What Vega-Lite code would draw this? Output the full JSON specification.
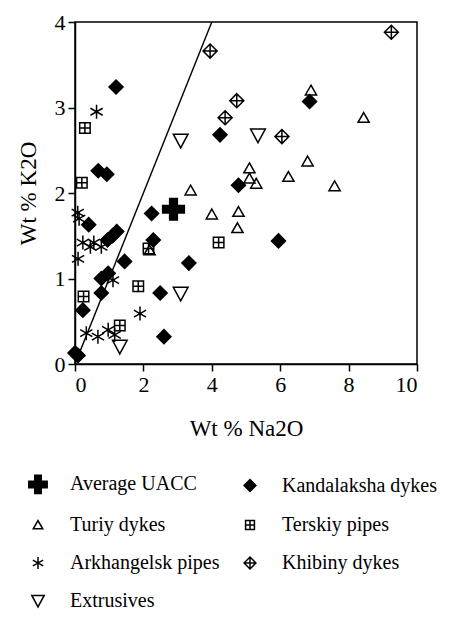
{
  "$schema": "https://vega.github.io/schema/vega-lite/v6.json",
  "width": 342,
  "height": 342,
  "autosize": {"type": "none"},
  "padding": {"left": 75, "top": 22, "right": 32, "bottom": 255},
  "background": "white",
  "config": {
    "view": {"stroke": "black", "strokeWidth": 1.5},
    "font": "'Liberation Serif', 'Times New Roman', Times, 'DejaVu Serif', serif",
    "axis": {
      "grid": false,
      "domainColor": "black",
      "domainWidth": 1.5,
      "tickColor": "black",
      "tickWidth": 1.5,
      "tickSize": 7,
      "labelColor": "black",
      "titleColor": "black",
      "labelFont": "'Liberation Serif', 'Times New Roman', Times, 'DejaVu Serif', serif",
      "titleFont": "'Liberation Serif', 'Times New Roman', Times, 'DejaVu Serif', serif",
      "labelFontSize": 22,
      "titleFontSize": 23,
      "titleFontWeight": "normal",
      "format": "d"
    },
    "legend": {
      "labelFont": "'Liberation Serif', 'Times New Roman', Times, 'DejaVu Serif', serif"
    }
  },
  "datasets": {
    "pts": [
      {"group": "Average  UACC", "na2o": 2.88, "k2o": 1.81},
      {"group": "Kandalaksha dykes", "na2o": 1.2, "k2o": 3.24},
      {"group": "Kandalaksha dykes", "na2o": 0.68, "k2o": 2.26},
      {"group": "Kandalaksha dykes", "na2o": 0.93, "k2o": 2.22},
      {"group": "Kandalaksha dykes", "na2o": 4.24, "k2o": 2.68},
      {"group": "Kandalaksha dykes", "na2o": 6.86, "k2o": 3.07},
      {"group": "Kandalaksha dykes", "na2o": 4.78, "k2o": 2.09},
      {"group": "Kandalaksha dykes", "na2o": 5.95, "k2o": 1.44},
      {"group": "Kandalaksha dykes", "na2o": 2.24, "k2o": 1.76},
      {"group": "Kandalaksha dykes", "na2o": 0.4, "k2o": 1.63},
      {"group": "Kandalaksha dykes", "na2o": 1.22, "k2o": 1.55},
      {"group": "Kandalaksha dykes", "na2o": 1.1, "k2o": 1.5},
      {"group": "Kandalaksha dykes", "na2o": 0.95, "k2o": 1.45},
      {"group": "Kandalaksha dykes", "na2o": 2.29, "k2o": 1.45},
      {"group": "Kandalaksha dykes", "na2o": 1.45, "k2o": 1.2},
      {"group": "Kandalaksha dykes", "na2o": 3.33, "k2o": 1.18},
      {"group": "Kandalaksha dykes", "na2o": 0.97, "k2o": 1.06},
      {"group": "Kandalaksha dykes", "na2o": 0.77, "k2o": 1.0},
      {"group": "Kandalaksha dykes", "na2o": 0.77, "k2o": 0.83},
      {"group": "Kandalaksha dykes", "na2o": 2.49, "k2o": 0.83},
      {"group": "Kandalaksha dykes", "na2o": 0.23, "k2o": 0.63},
      {"group": "Kandalaksha dykes", "na2o": 2.6, "k2o": 0.32},
      {"group": "Kandalaksha dykes", "na2o": 0.0, "k2o": 0.13},
      {"group": "Kandalaksha dykes", "na2o": 0.09, "k2o": 0.1},
      {"group": "Turiy dykes", "na2o": 6.9, "k2o": 3.2},
      {"group": "Turiy dykes", "na2o": 8.44, "k2o": 2.88},
      {"group": "Turiy dykes", "na2o": 6.8, "k2o": 2.37},
      {"group": "Turiy dykes", "na2o": 5.1, "k2o": 2.29},
      {"group": "Turiy dykes", "na2o": 6.24, "k2o": 2.19},
      {"group": "Turiy dykes", "na2o": 5.1, "k2o": 2.17},
      {"group": "Turiy dykes", "na2o": 5.3, "k2o": 2.11},
      {"group": "Turiy dykes", "na2o": 7.59, "k2o": 2.08},
      {"group": "Turiy dykes", "na2o": 3.38, "k2o": 2.03},
      {"group": "Turiy dykes", "na2o": 4.0, "k2o": 1.75},
      {"group": "Turiy dykes", "na2o": 4.78, "k2o": 1.78},
      {"group": "Turiy dykes", "na2o": 4.75, "k2o": 1.59},
      {"group": "Turiy dykes", "na2o": 2.18, "k2o": 1.33},
      {"group": "Terskiy pipes", "na2o": 0.29, "k2o": 2.76},
      {"group": "Terskiy pipes", "na2o": 0.2, "k2o": 2.12},
      {"group": "Terskiy pipes", "na2o": 4.2, "k2o": 1.42},
      {"group": "Terskiy pipes", "na2o": 2.15, "k2o": 1.35},
      {"group": "Terskiy pipes", "na2o": 1.85, "k2o": 0.91},
      {"group": "Terskiy pipes", "na2o": 0.25, "k2o": 0.79},
      {"group": "Terskiy pipes", "na2o": 1.31, "k2o": 0.45},
      {"group": "Arkhangelsk pipes", "na2o": 0.63, "k2o": 2.95},
      {"group": "Arkhangelsk pipes", "na2o": 0.08, "k2o": 1.77},
      {"group": "Arkhangelsk pipes", "na2o": 0.12, "k2o": 1.7},
      {"group": "Arkhangelsk pipes", "na2o": 0.23, "k2o": 1.42},
      {"group": "Arkhangelsk pipes", "na2o": 0.45, "k2o": 1.37},
      {"group": "Arkhangelsk pipes", "na2o": 0.55, "k2o": 1.42},
      {"group": "Arkhangelsk pipes", "na2o": 0.77, "k2o": 1.37},
      {"group": "Arkhangelsk pipes", "na2o": 0.09, "k2o": 1.23},
      {"group": "Arkhangelsk pipes", "na2o": 1.11, "k2o": 0.98},
      {"group": "Arkhangelsk pipes", "na2o": 1.9, "k2o": 0.59},
      {"group": "Arkhangelsk pipes", "na2o": 0.33, "k2o": 0.36},
      {"group": "Arkhangelsk pipes", "na2o": 0.67, "k2o": 0.32},
      {"group": "Arkhangelsk pipes", "na2o": 0.97, "k2o": 0.4},
      {"group": "Arkhangelsk pipes", "na2o": 1.16, "k2o": 0.34},
      {"group": "Khibiny dykes", "na2o": 3.95, "k2o": 3.66},
      {"group": "Khibiny dykes", "na2o": 9.25, "k2o": 3.88},
      {"group": "Khibiny dykes", "na2o": 4.73, "k2o": 3.08},
      {"group": "Khibiny dykes", "na2o": 4.39, "k2o": 2.88},
      {"group": "Khibiny dykes", "na2o": 6.05, "k2o": 2.66},
      {"group": "Extrusives", "na2o": 3.09, "k2o": 2.61},
      {"group": "Extrusives", "na2o": 5.35, "k2o": 2.67},
      {"group": "Extrusives", "na2o": 3.09, "k2o": 0.82},
      {"group": "Extrusives", "na2o": 1.31, "k2o": 0.2}
    ],
    "ref": [
      {"na2o": 0, "k2o": 0},
      {"na2o": 4, "k2o": 4}
    ]
  },
  "layer": [
    {
      "data": {"name": "ref"},
      "mark": {"type": "line", "color": "black", "strokeWidth": 1.4, "clip": true},
      "encoding": {
        "x": {"field": "na2o", "type": "quantitative"},
        "y": {"field": "k2o", "type": "quantitative"}
      }
    },
    {
      "data": {"name": "pts"},
      "mark": {"type": "point", "stroke": "black", "strokeWidth": 1.5, "size": 196, "opacity": 1},
      "encoding": {
        "x": {
          "field": "na2o", "type": "quantitative",
          "scale": {"domain": [0, 10], "nice": false, "zero": false},
          "axis": {"title": "Wt % Na2O", "values": [0, 2, 4, 6, 8, 10], "labelPadding": 3, "titlePadding": 22}
        },
        "y": {
          "field": "k2o", "type": "quantitative",
          "scale": {"domain": [0, 4], "nice": false, "zero": false},
          "axis": {"title": "Wt % K2O", "values": [0, 1, 2, 3, 4], "labelPadding": 3, "titlePadding": 14}
        },
        "shape": {
          "field": "group", "type": "nominal",
          "scale": {
            "domain": ["Average  UACC", "Kandalaksha dykes", "Turiy dykes", "Terskiy pipes", "Arkhangelsk pipes", "Khibiny dykes", "Extrusives"],
            "range": [
              "M-0.55,-1.55H0.55V-0.55H1.55V0.55H0.55V1.55H-0.55V0.55H-1.55V-0.55H-0.55Z",
              "M0,-1L1,0L0,1L-1,0Z",
              "M0,-0.75L0.8,0.65H-0.8Z",
              "M-0.75,-0.75H0.75V0.75H-0.75Z M0,-0.75V0.75 M-0.75,0H0.75",
              "M0,-1V1 M-0.87,-0.5L0.87,0.5 M-0.87,0.5L0.87,-0.5",
              "M0,-1L1,0L0,1L-1,0Z M0,-1V1 M-1,0H1",
              "M-1.05,-0.95H1.05L0,1Z"
            ]
          },
          "legend": {
            "orient": "none",
            "legendX": -47,
            "legendY": 452,
            "columns": 2,
            "direction": "horizontal",
            "title": null,
            "labelFont": "'Liberation Serif', 'Times New Roman', Times, 'DejaVu Serif', serif",
            "labelFontSize": 20,
            "labelColor": "black",
            "labelLimit": 300,
            "symbolSize": 140,
            "labelOffset": 22,
            "rowPadding": 18,
            "columnPadding": 20,
            "encode": {
              "symbols": {"update": {"stroke": {"value": "black"}, "strokeWidth": {"value": 1.5}}}
            }
          }
        },
        "fill": {
          "field": "group", "type": "nominal",
          "scale": {
            "domain": ["Average  UACC", "Kandalaksha dykes", "Turiy dykes", "Terskiy pipes", "Arkhangelsk pipes", "Khibiny dykes", "Extrusives"],
            "range": ["black", "black", "transparent", "transparent", "transparent", "transparent", "transparent"]
          },
          "legend": {
            "orient": "none",
            "legendX": -47,
            "legendY": 452,
            "columns": 2,
            "direction": "horizontal",
            "title": null,
            "labelFont": "'Liberation Serif', 'Times New Roman', Times, 'DejaVu Serif', serif",
            "labelFontSize": 20,
            "labelColor": "black",
            "labelLimit": 300,
            "symbolSize": 140,
            "labelOffset": 22,
            "rowPadding": 18,
            "columnPadding": 20,
            "encode": {
              "symbols": {"update": {"stroke": {"value": "black"}, "strokeWidth": {"value": 1.5}}}
            }
          }
        }
      }
    }
  ]
}
